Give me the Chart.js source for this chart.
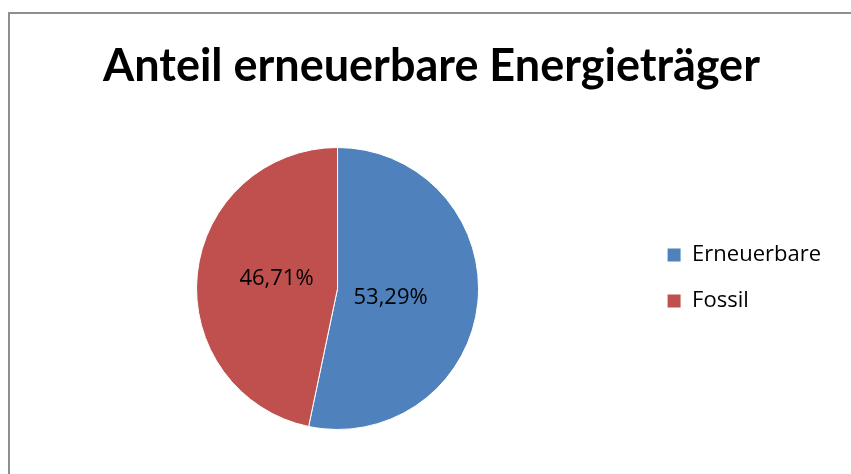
<!DOCTYPE html>
<html>
<head>
<meta charset="utf-8">
<script src="https://cdn.jsdelivr.net/npm/chart.js@4"></script>
<style>
  html, body { margin: 0; padding: 0; background: #fff; overflow: hidden; }
  #wrap { position: relative; width: 851px; height: 474px; }
  #frame { position: absolute; left: 8px; top: 12px; width: 900px; height: 500px;
           border: 2px solid #8e8e8e; box-sizing: border-box; }
  canvas { position: absolute; left: 0; top: 0; }
</style>
</head>
<body>
<div id="wrap">
  <div id="frame"></div>
  <canvas id="chartPie" width="851" height="474"></canvas>
</div>
<script>
// ===== DATA =====
const titleText  = 'Anteil erneuerbare Energieträger';
const categories = ['Erneuerbare', 'Fossil'];
const shares     = [53.29, 46.71];
const colors     = ['#4F81BD', '#C0504D'];

// label persen di dalam slice (format Jerman, koma)
const sliceLabels = {
  id: 'sliceLabels',
  afterDatasetsDraw(chart) {
    const { ctx } = chart;
    const meta = chart.getDatasetMeta(0);
    ctx.save();
    ctx.font = '22px "Open Sans"';
    ctx.fillStyle = '#000';
    ctx.textAlign = 'center';
    ctx.textBaseline = 'middle';
    meta.data.forEach((arc, i) => {
      const mid = (arc.startAngle + arc.endAngle) / 2 + 0.06;
      const r   = arc.outerRadius * 0.41;
      const x   = arc.x - 4 + Math.cos(mid) * r;
      const y   = arc.y + Math.sin(mid) * r;
      ctx.fillText(shares[i].toFixed(2).replace('.', ',') + '%', x, y);
    });
    ctx.restore();
  }
};

const ctxPie = document.getElementById('chartPie').getContext('2d');

new Chart(ctxPie, {
  type: 'pie',
  data: {
    labels: categories,
    datasets: [{
      data: shares,
      backgroundColor: colors,
      borderColor: '#fff',
      borderWidth: 1,
    }],
  },
  options: {
    responsive: false,
    animation: false,
    layout: { padding: { left: 32, right: 20, top: 0, bottom: 44 } },
    plugins: {
      title: {
        display: true,
        text: titleText,
        color: '#000',
        font: { family: 'Lato', size: 45, weight: 'bold', lineHeight: 1.2 },
        padding: { top: 39, bottom: 54 },
      },
      legend: {
        position: 'right',
        align: 'start',
        title: {
          display: true,
          text: ' ',
          font: { size: 10, lineHeight: 1.2 },
          padding: { top: 104, bottom: 104 },
        },
        labels: {
          boxWidth: 14,
          boxHeight: 14,
          padding: 24,
          color: '#000',
          font: { family: 'Open Sans', size: 22 },
        },
      },
      tooltip: { enabled: false },
    },
  },
  plugins: [sliceLabels],
});
</script>
</body>
</html>
